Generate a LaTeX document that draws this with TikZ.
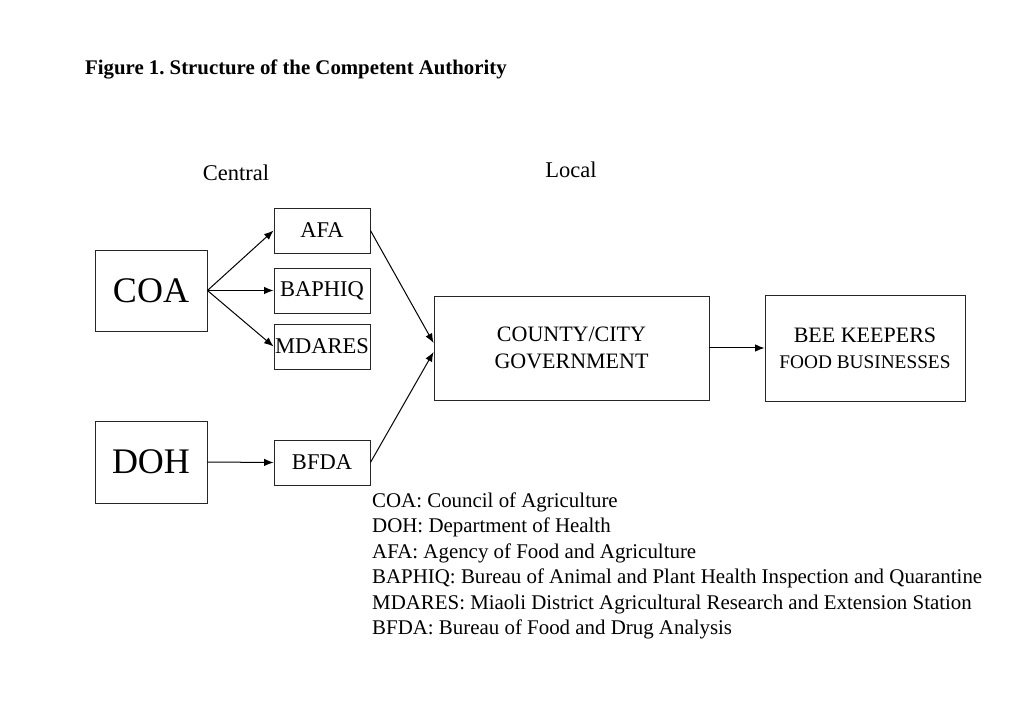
\documentclass[tikz,border=0pt]{standalone}
\usepackage{fontspec}
\setmainfont{Liberation Serif}
\usetikzlibrary{arrows.meta}
\frenchspacing
\begin{document}
\begin{tikzpicture}[x=1pt,y=-1pt,
  box/.style={draw=black!85,line width=0.9pt,inner sep=0pt,align=center},
  conn/.style={line width=1pt,-{Latex[length=9.5pt,width=7.5pt]}},
  leg/.style={anchor=base west,inner sep=0pt,font=\fontsize{20.9}{25}\selectfont}]
\useasboundingbox[fill=white] (0,0) rectangle (1023,708);
\node[anchor=base west,inner sep=0pt,font=\fontsize{20.8}{24}\selectfont\bfseries] (title) at (85,75) {Figure 1. Structure of the Competent Authority};
\node[anchor=base,inner sep=0pt,font=\fontsize{22.5}{27}\selectfont] (central) at (236,181) {Central};
\node[anchor=base,inner sep=0pt,font=\fontsize{22.5}{27}\selectfont] (local) at (571,178) {Local};
\node[box,minimum width=112pt,minimum height=81pt,font=\fontsize{36}{40}\selectfont] (coa) at (151,290.5) {COA};
\node[box,minimum width=112pt,minimum height=82pt,font=\fontsize{36}{40}\selectfont] (doh) at (151,462) {DOH};
\node[box,minimum width=96pt,minimum height=45pt,font=\fontsize{22.5}{27}\selectfont] (afa) at (322,230.5) {AFA};
\node[box,minimum width=96pt,minimum height=45pt,font=\fontsize{22.5}{27}\selectfont] (baphiq) at (322,290.5) {BAPHIQ};
\node[box,minimum width=96pt,minimum height=45pt,font=\fontsize{22.5}{27}\selectfont] (mdares) at (322,346.5) {MDARES};
\node[box,minimum width=96pt,minimum height=45pt,font=\fontsize{22.5}{27}\selectfont] (bfda) at (322,462.5) {BFDA};
\node[box,minimum width=275pt,minimum height=104pt,font=\fontsize{22}{27}\selectfont] (county) at (571.5,348) {COUNTY/CITY\\GOVERNMENT};
\node[box,minimum width=200pt,minimum height=106pt,font=\fontsize{22}{26}\selectfont] (bee) at (865,348) {BEE KEEPERS\\\fontsize{19.3}{26}\selectfont FOOD BUSINESSES};
\draw[conn] (coa.east) -- (afa.west);
\draw[conn] (coa.east) -- (baphiq.west);
\draw[conn] (coa.east) -- (mdares.west);
\draw[conn] (doh.east) -- (bfda.west);
\draw[conn] (afa.east) -- ([yshift=5pt]county.west);
\draw[conn] (bfda.east) -- ([yshift=-4pt]county.west);
\draw[conn] (county.east) -- (bee.west);
\node[leg] (l1) at (372,507) {COA: Council of Agriculture};
\node[leg] (l2) at (372,532.5) {DOH: Department of Health};
\node[leg] (l3) at (372,558) {AFA: Agency of Food and Agriculture};
\node[leg] (l4) at (372,583.5) {BAPHIQ: Bureau of Animal and Plant Health Inspection and Quarantine};
\node[leg] (l5) at (372,609) {MDARES: Miaoli District Agricultural Research and Extension Station};
\node[leg] (l6) at (372,634) {BFDA: Bureau of Food and Drug Analysis};
\end{tikzpicture}
\end{document}
